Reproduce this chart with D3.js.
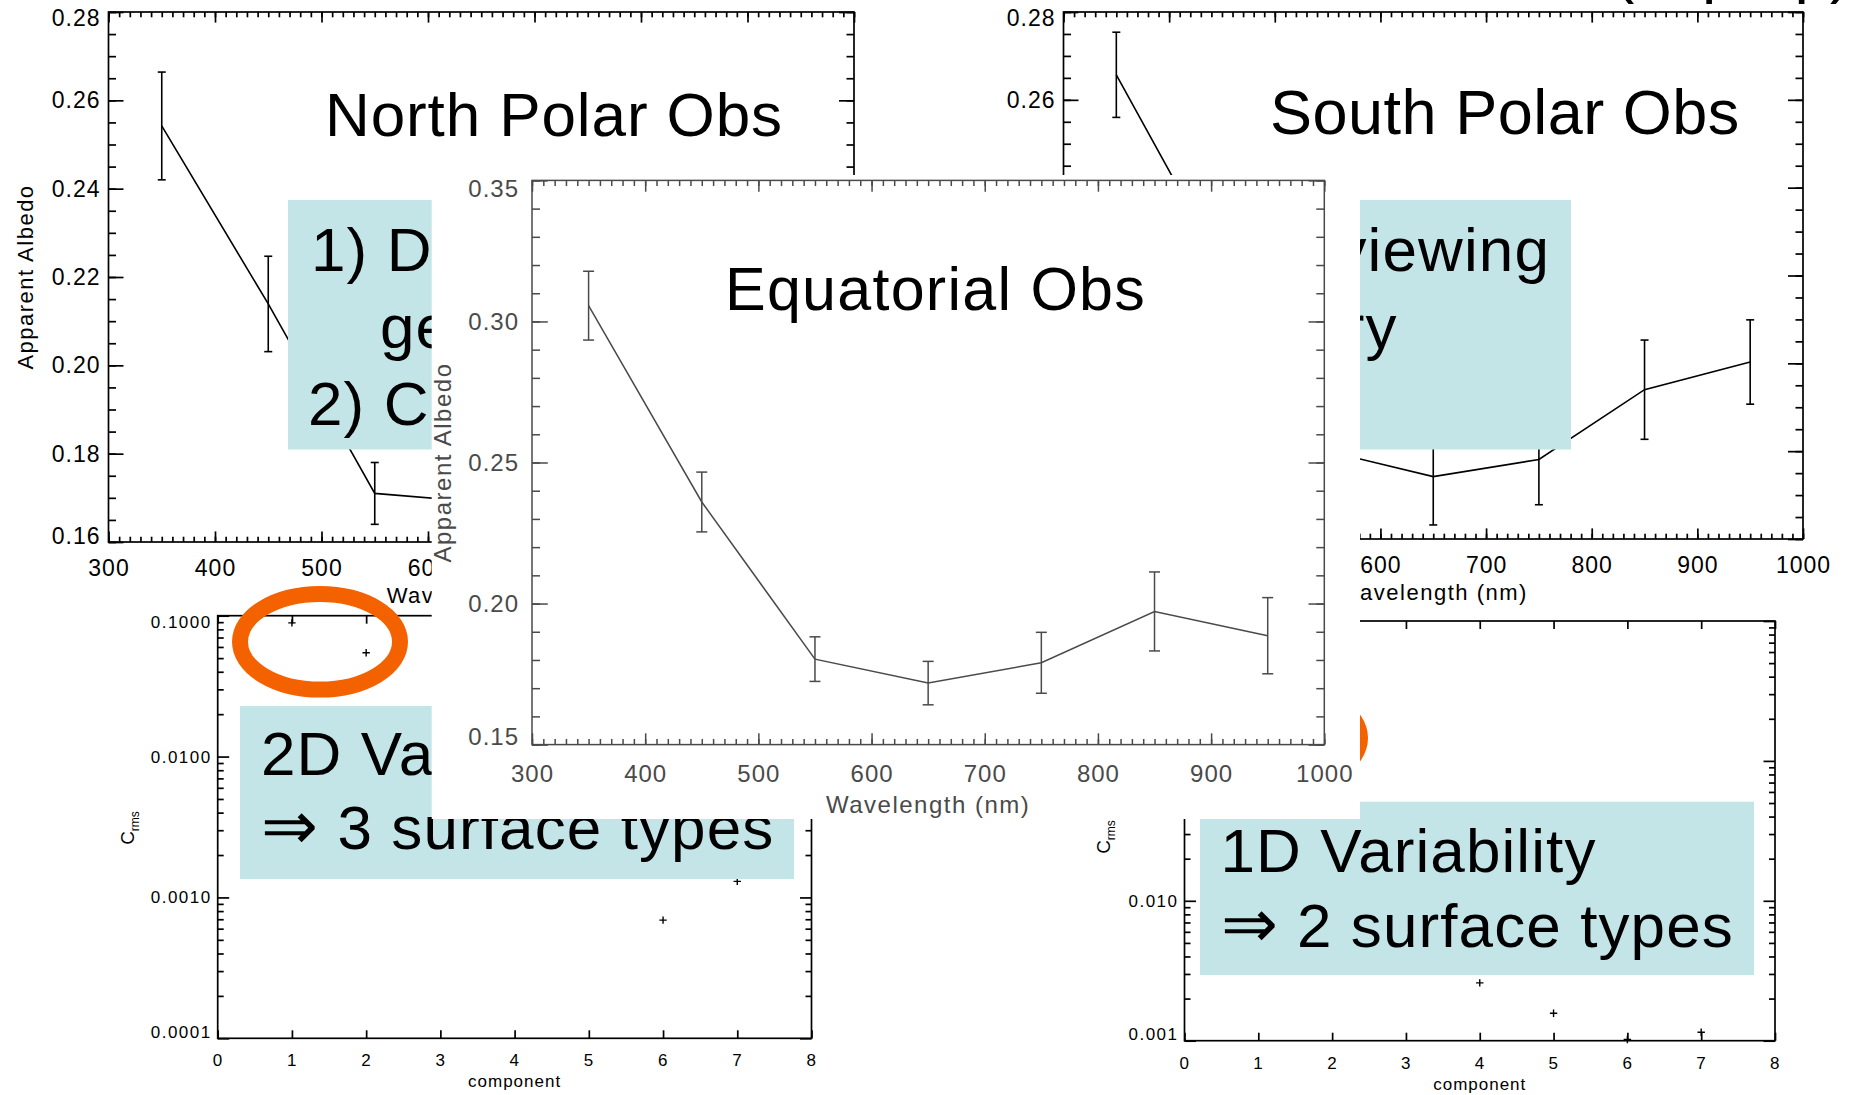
<!DOCTYPE html>
<html>
<head>
<meta charset="utf-8">
<script src="https://cdn.jsdelivr.net/npm/d3@7"></script>
<style>
	body { margin: 0; background: #fff; }
	svg { display: block; }
</style>
</head>
<body>
<svg id="slide" width="1853" height="1095"></svg>
<script>

// Values
//
const wavelengths   = [350, 450, 550, 650, 750, 850, 950];
const northAlbedo   = [0.2542, 0.2139, 0.1710, 0.1690];   // later points sit behind the equatorial panel
const northErr      = [0.0122, 0.0108, 0.0070, 0.0070];
const southAlbedo   = [0.2657, 0.2220, 0.1800, 0.1742, 0.1781, 0.1940, 0.2003];
const southErr      = [0.0097, 0.0100, 0.0100, 0.0110, 0.0103, 0.0113, 0.0096];
const equatorAlbedo = [0.3056, 0.2360, 0.1803, 0.1718, 0.1790, 0.1972, 0.1886];
const equatorErr    = [0.0122, 0.0106, 0.0079, 0.0077, 0.0108, 0.0140, 0.0135];

const comp2D = [1, 2, 6, 7];
const crms2D = [0.089, 0.0546, 0.00069, 0.0013];
const comp1D = [4, 5, 6, 7];
const crms1D = [0.00259, 0.00157, 0.00102, 0.00115];

const wlTicks        = [300, 400, 500, 600, 700, 800, 900, 1000];
const polarTicks     = [0.16, 0.18, 0.20, 0.22, 0.24, 0.26, 0.28];
const equatorTicks   = [0.15, 0.20, 0.25, 0.30, 0.35];
const compTicks      = [0, 1, 2, 3, 4, 5, 6, 7, 8];
const crmsTicks2D    = [0.0001, 0.001, 0.01, 0.1];
const crmsTicks1D    = [0.001, 0.01, 0.1, 1];

const panelTitles = ["North Polar Obs", "South Polar Obs", "Equatorial Obs"];
const topBoxLines = [
	["1) Different regions seen", "due to viewing"],
	["geometry and", "cloud inventory"],
	["2) Cloud variability", ""]
];
const box2D = ["2D Variability", "\u21D2 3 surface types"];
const box1D = ["1D Variability", "\u21D2 2 surface types"];

const FONT = "'Liberation Sans', Arial, Helvetica, sans-serif";
const CYAN = "#c4e5e8";
const ORANGE = "#f46200";

let svg = d3.select("#slide");
svg.append("rect").attr("width", 1853).attr("height", 1095).attr("fill", "#fff");

// cut-off slide title at the very top
svg.append("text").attr("x", 1613).attr("y", -9)
	.attr("font-family", FONT).attr("font-size", 64).text("(in prep)");


// Utils
//
function tickRow(g, axis, pos, vals, len, sw){
	let a = g.append("g").attr("transform", pos)
		.call(axis.tickValues(vals).tickSize(-len).tickFormat(""));
	a.select(".domain").remove();
	a.selectAll("line").attr("stroke-width", sw);
	return a;
}

function minorLinear(lo, hi, step){
	let out = [];
	for (let v = lo; v <= hi + 1e-9; v += step) out.push(+v.toFixed(6));
	return out;
}

function minorLog(lo, hi){
	let out = [];
	for (let d = Math.floor(Math.log10(lo)); d < Math.log10(hi); d++){
		for (let k = 2; k <= 9; k++){
			let v = k * Math.pow(10, d);
			if (v > lo && v < hi) out.push(v);
		}
	}
	return out;
}

// big slide text; a leading arrow is drawn a little larger
function slideText(g, x, y, str, size, ls, anchor){
	let t = g.append("text").attr("x", x).attr("y", y)
		.attr("font-family", FONT).attr("font-size", size).attr("letter-spacing", ls)
		.attr("text-anchor", anchor || "start");
	if (str.charAt(0) === "\u21D2") {
		t.append("tspan").attr("font-size", size * 1.1).text("\u21D2");
		t.append("tspan").text(str.slice(1));
	} else {
		t.text(str);
	}
	return t;
}

// IDL style box: ticks inside on all four sides, labels bottom and left
function idlFrame(g, x, y, o){
	let [xa, xb] = x.range(), [ya, yb] = y.range();
	g.attr("color", o.color);

	if (o.xMinor) {
		tickRow(g, d3.axisBottom(x), `translate(0,${ya})`, o.xMinor, o.tx / 2, o.sw);
		tickRow(g, d3.axisTop(x), `translate(0,${yb})`, o.xMinor, o.tx / 2, o.sw);
	}
	tickRow(g, d3.axisLeft(y), `translate(${xa},0)`, o.yMinor, o.tyMinor, o.sw);
	tickRow(g, d3.axisRight(y), `translate(${xb},0)`, o.yMinor, o.tyMinor, o.sw);
	tickRow(g, d3.axisTop(x), `translate(0,${yb})`, o.xMajor, o.tx, o.sw);
	tickRow(g, d3.axisRight(y), `translate(${xb},0)`, o.yMajor, o.ty, o.sw);

	let bottom = g.append("g").attr("transform", `translate(0,${ya})`)
		.call(d3.axisBottom(x).tickValues(o.xMajor).tickSize(-o.tx).tickPadding(o.xPad).tickFormat(o.xFmt));
	let left = g.append("g").attr("transform", `translate(${xa},0)`)
		.call(d3.axisLeft(y).tickValues(o.yMajor).tickSize(-o.ty).tickPadding(o.yPad).tickFormat(o.yFmt));
	[bottom, left].forEach(function(a){
		a.select(".domain").remove();
		a.selectAll("line").attr("stroke-width", o.sw);
		a.attr("font-family", FONT).attr("font-size", o.fs).attr("letter-spacing", o.ls);
	});
	// end labels are pushed inside the box
	let yLo = d3.min(o.yMajor), yHi = d3.max(o.yMajor);
	left.selectAll(".tick text").attr("y", d => d === yHi ? o.nudge : (d === yLo ? -o.nudge : 0));

	g.append("rect").attr("x", xa).attr("y", yb).attr("width", xb - xa).attr("height", ya - yb)
		.attr("fill", "none").attr("stroke", o.color).attr("stroke-width", o.sw);
}

function albedoPlot(g, x, y, vals, errs, o){
	idlFrame(g, x, y, o);
	let pts = vals.map((v, i) => [wavelengths[i], v, errs[i]]);

	g.append("path").datum(pts)
		.attr("d", d3.line().x(d => x(d[0])).y(d => y(d[1])))
		.attr("fill", "none").attr("stroke", o.color).attr("stroke-width", o.lw);

	let bars = g.append("g").attr("stroke", o.color).attr("stroke-width", o.lw);
	pts.forEach(function(d){
		let cx = x(d[0]), top = y(d[1] + d[2]), bot = y(d[1] - d[2]);
		bars.append("line").attr("x1", cx).attr("x2", cx).attr("y1", top).attr("y2", bot);
		bars.append("line").attr("x1", cx - o.cap / 2).attr("x2", cx + o.cap / 2).attr("y1", top).attr("y2", top);
		bars.append("line").attr("x1", cx - o.cap / 2).attr("x2", cx + o.cap / 2).attr("y1", bot).attr("y2", bot);
	});

	let [xa, xb] = x.range(), [ya, yb] = y.range();
	g.append("text").attr("x", (xa + xb) / 2).attr("y", ya + o.xTitleOff)
		.attr("text-anchor", "middle").attr("fill", o.color)
		.attr("font-family", FONT).attr("font-size", o.titleFs).attr("letter-spacing", 1.5)
		.text("Wavelength (nm)");
	g.append("text").attr("transform", `translate(${o.yTitleX},${(ya + yb) / 2}) rotate(-90)`)
		.attr("text-anchor", "middle").attr("dy", "0.35em").attr("fill", o.color)
		.attr("font-family", FONT).attr("font-size", o.titleFs).attr("letter-spacing", 1.5)
		.text("Apparent Albedo");
}

function componentPlot(g, x, y, comps, vals, o){
	idlFrame(g, x, y, o);
	g.append("g").selectAll("path").data(comps.map((c, i) => [c, vals[i]]))
		.enter().append("path")
		.attr("transform", d => `translate(${x(d[0])},${y(d[1])})`)
		.attr("d", "M-3.7,0H3.7M0,-3.7V3.7")
		.attr("stroke", "#000").attr("stroke-width", 1.4);

	let [xa, xb] = x.range(), [ya, yb] = y.range();
	g.append("text").attr("x", (xa + xb) / 2).attr("y", ya + 49)
		.attr("text-anchor", "middle").attr("font-family", FONT)
		.attr("font-size", 17).attr("letter-spacing", 1).text("component");
	let t = g.append("text").attr("transform", `translate(${o.yTitleX},${o.yTitleY}) rotate(-90)`)
		.attr("text-anchor", "middle").attr("font-family", FONT);
	t.append("tspan").attr("font-size", 19).text("C");
	t.append("tspan").attr("font-size", 12).attr("dy", 5).text("rms");
}

let polarOpts = {
	color: "#000", tx: 10.6, ty: 15, tyMinor: 7.5, sw: 1.7, lw: 1.6, cap: 8,
	fs: 23, ls: 1, xPad: 18, yPad: 8, nudge: 6,
	xMajor: wlTicks, xMinor: minorLinear(300, 1000, 10), xFmt: d3.format("d"),
	yMajor: polarTicks, yMinor: minorLinear(0.16, 0.28, 0.005), yFmt: d3.format(".2f"),
	titleFs: 22, xTitleOff: 61
};


// North polar spectrum
//
let npX = d3.scaleLinear().domain([300, 1000]).range([108.5, 854]);
let npY = d3.scaleLinear().domain([0.16, 0.28]).range([542, 12]);
let np = svg.append("g");
albedoPlot(np, npX, npY, northAlbedo, northErr, Object.assign({}, polarOpts, {yTitleX: 25}));
slideText(np, 325, 135.6, panelTitles[0], 62, 0.9);


// South polar spectrum
//
let spX = d3.scaleLinear().domain([300, 1000]).range([1063.5, 1803]);
let spY = d3.scaleLinear().domain([0.16, 0.28]).range([539, 12]);
let sp = svg.append("g");
albedoPlot(sp, spX, spY, southAlbedo, southErr, Object.assign({}, polarOpts, {yTitleX: 980}));
slideText(sp, 1270, 134.4, panelTitles[1], 63, 0.5);


// PCA component amplitudes (2D and 1D)
//
let compOpts = {
	color: "#000", tx: 8, ty: 11.5, tyMinor: 6, sw: 1.7,
	fs: 17, ls: 1.5, xPad: 16, yPad: 6, nudge: 6.5,
	xMajor: compTicks, xMinor: null, xFmt: d3.format("d")
};

let llX = d3.scaleLinear().domain([0, 8]).range([217.7, 811.5]);
let llY = d3.scaleLog().domain([1e-4, 0.1]).range([1038.3, 615.7]);
componentPlot(svg.append("g"), llX, llY, comp2D, crms2D, Object.assign({}, compOpts, {
	yMajor: crmsTicks2D, yMinor: minorLog(1e-4, 0.1), yFmt: d3.format(".4f"),
	yTitleX: 134, yTitleY: 828
}));

let lrX = d3.scaleLinear().domain([0, 8]).range([1184.5, 1775]);
let lrY = d3.scaleLog().domain([1e-3, 1]).range([1040.7, 621]);
componentPlot(svg.append("g"), lrX, lrY, comp1D, crms1D, Object.assign({}, compOpts, {
	yMajor: crmsTicks1D, yMinor: minorLog(1e-3, 1), yFmt: d3.format(".3f"),
	yTitleX: 1110, yTitleY: 837
}));


// Highlight boxes
//
function textBox(x, y, w, h, lines, tx, base, step){
	let g = svg.append("g");
	g.append("rect").attr("x", x).attr("y", y).attr("width", w).attr("height", h).attr("fill", CYAN);
	lines.forEach(function(l, i){
		slideText(g, tx[i], base + i * step, l, 62, 1.1);
	});
	return g;
}

let tb = textBox(288, 200, 1283, 249.5, topBoxLines.map(l => l[0]), [311, 380, 308], 271, 77);
topBoxLines.forEach(function(l, i){
	slideText(tb, [1550, 1397.5, 1397.5][i], 271 + i * 77, l[1], 62, 1.1, "end");
});
textBox(240, 706, 554, 173, box2D, [261, 261], 775, 74);
textBox(1200, 801.7, 554, 173.3, box1D, [1220.5, 1220.5], 871.7, 75);

[[320, 641.8], [1280, 738]].forEach(function(c){
	svg.append("ellipse").attr("cx", c[0]).attr("cy", c[1]).attr("rx", 80).attr("ry", 47.8)
		.attr("fill", "none").attr("stroke", ORANGE).attr("stroke-width", 16);
});


// Equatorial spectrum, pasted on top as a white panel
//
svg.append("rect").attr("x", 431.7).attr("y", 175).attr("width", 928.3).attr("height", 644).attr("fill", "#fff");
let eqX = d3.scaleLinear().domain([300, 1000]).range([532, 1324.3]);
let eqY = d3.scaleLinear().domain([0.15, 0.35]).range([744.6, 180.4]);
let eq = svg.append("g");
albedoPlot(eq, eqX, eqY, equatorAlbedo, equatorErr, Object.assign({}, polarOpts, {
	color: "#4a4a4a", tx: 11.3, ty: 15.8, tyMinor: 8, sw: 1.5, lw: 1.5, cap: 11,
	fs: 24, xPad: 20, yPad: 13, nudge: 8,
	yMajor: equatorTicks, yMinor: minorLinear(0.15, 0.35, 0.01),
	titleFs: 24, xTitleOff: 68, yTitleX: 443
}));
slideText(eq, 725, 309.6, panelTitles[2], 61, 1.25).attr("fill", "#000");

</script>
</body>
</html>
